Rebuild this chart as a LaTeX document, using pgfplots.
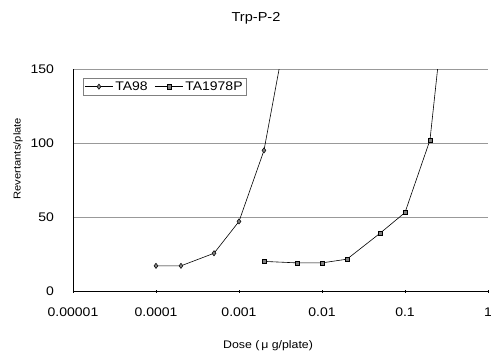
\documentclass[border=0pt]{standalone}
\usepackage{pgfplots}
\pgfplotsset{compat=1.18}
\usepackage{fontspec}
\setmainfont{Liberation Sans}[FakeStretch=1.12]
\begin{document}
\begin{tikzpicture}
\path[use as bounding box] (-73pt,-63pt) rectangle (418pt,291pt);
\begin{axis}[
  scale only axis, width=415pt, height=222pt,
  xmode=log, xmin=1e-5, xmax=1, ymin=0, ymax=150,
  axis lines*=left,
  axis line style={black, line width=0.6pt},
  xtick={1e-5,1e-4,1e-3,1e-2,1e-1,1},
  xticklabels={0.00001,0.0001,0.001,0.01,0.1,1},
  ytick={0,50,100,150},
  xminorticks=false,
  /pgf/number format/assume math mode=true,
  ticklabel style={font=\fontsize{12.5}{14}\selectfont},
  xticklabel style={yshift=-12pt},
  yticklabel style={xshift=-14pt},
  x tick style={black, line width=0.4pt}, major tick length=3pt, tick align=center,
  y tick style={draw=none},
  ymajorgrids, grid style={gray!80, line width=0.5pt},
  title={Trp-P-2},
  title style={at={(axis description cs:0.441,1.203)}, anchor=center, font=\fontsize{13}{15}\selectfont},
  xlabel={Dose (\,μ g/plate)},
  xlabel style={at={(axis description cs:0.47,-0.247)}, anchor=center, font=\fontsize{11}{13}\selectfont},
  ylabel={Revertants/plate},
  ylabel style={at={(axis description cs:-0.1325,0.596)}, anchor=center, font=\fontsize{10}{12}\selectfont},
  legend columns=2,
  legend style={at={(axis description cs:0.024,0.96)}, anchor=north west, draw=gray, line width=0.4pt, font=\fontsize{12.5}{14}\selectfont, inner sep=1.5pt, /tikz/every even column/.append style={column sep=5pt}},
  legend image code/.code={\draw[#1, mark repeat=2, mark phase=2] plot coordinates {(0pt,0pt) (14pt,0pt) (28pt,0pt)};},
  legend cell align=left,
  clip=true,
]
\addplot[black, line width=0.6pt, mark=diamond*, mark size=2.6pt, mark options={fill=gray, draw=black, line width=0.5pt}]
  coordinates {(0.0001,17) (0.0002,17) (0.0005,25.5) (0.001,47) (0.002,95) (0.005,215)};
\addlegendentry{TA98}
\addplot[black, line width=0.6pt, mark=square*, mark size=2.1pt, mark options={fill=gray, draw=black, line width=0.5pt}]
  coordinates {(0.002,20) (0.005,19) (0.01,19) (0.02,21.5) (0.05,39) (0.1,53) (0.2,102) (0.5,310)};
\addlegendentry{TA1978P}
\end{axis}
\end{tikzpicture}
\end{document}
